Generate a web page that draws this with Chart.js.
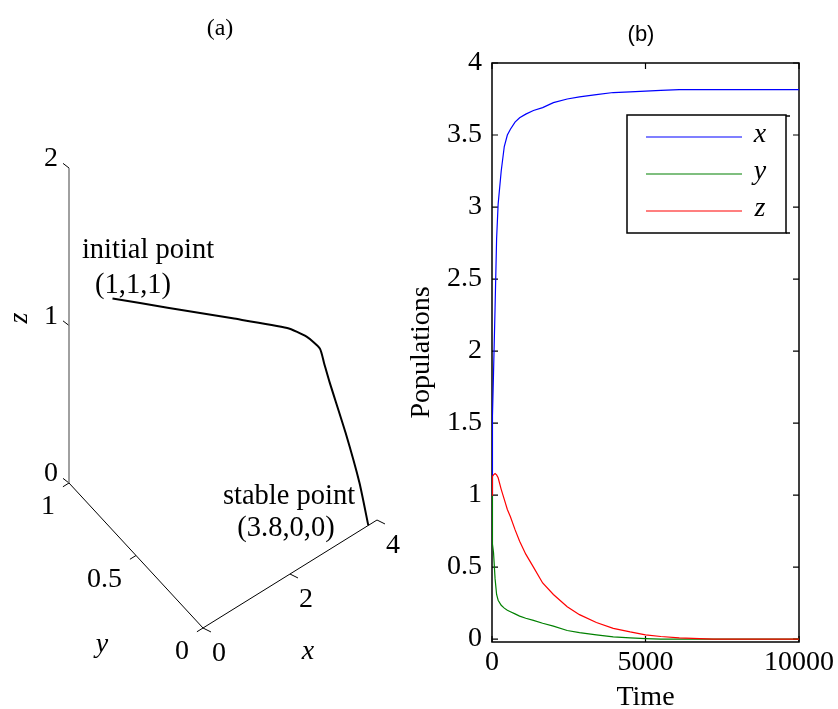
<!DOCTYPE html>
<html>
<head>
<meta charset="utf-8">
<title>Populations</title>
<script src="https://cdn.jsdelivr.net/npm/chart.js@4.4.1/dist/chart.umd.min.js"></script>
<style>
  html, body { margin: 0; padding: 0; background: #fff; }
  #wrap { position: relative; width: 838px; height: 709px; }
  canvas { position: absolute; top: 0; }
  #chartA { left: 0; }
  #chartB { left: 400px; }
</style>
</head>
<body>
<div id="wrap">
  <canvas id="chartA" width="420" height="709"></canvas>
  <canvas id="chartB" width="438" height="709"></canvas>
</div>
<script>
// ---- panel (b): populations over time ----
const timeSteps = [0, 10, 20, 50, 100, 150, 200, 300, 400, 500, 600, 750, 900, 1100, 1350,
                   1650, 2000, 2450, 2850, 3400, 3950, 4500, 5000, 5500, 6100, 7200, 8000, 9000, 10000];
const xPop = [1.0, 1.45, 1.55, 1.85, 2.3, 2.78, 3.02, 3.25, 3.42, 3.5, 3.54, 3.59, 3.62, 3.645, 3.67,
              3.69, 3.725, 3.75, 3.765, 3.78, 3.795, 3.8, 3.805, 3.81, 3.815, 3.815, 3.815, 3.815, 3.815];
const yPop = [1.0, 0.68, 0.66, 0.6, 0.42, 0.31, 0.27, 0.235, 0.215, 0.2, 0.19, 0.175, 0.16, 0.145, 0.13,
              0.11, 0.09, 0.06, 0.045, 0.03, 0.015, 0.008, 0.003, 0, 0, 0, 0, 0, 0];
const zPop = [1.0, 1.12, 1.13, 1.14, 1.15, 1.14, 1.12, 1.04, 0.97, 0.9, 0.85, 0.76, 0.68, 0.59, 0.5,
              0.39, 0.31, 0.225, 0.17, 0.115, 0.075, 0.05, 0.03, 0.018, 0.008, 0, 0, 0, 0];
const popTicks = [0, 0.5, 1, 1.5, 2, 2.5, 3, 3.5, 4];
const timeTicks = [0, 5000, 10000];
const legendNames = ['x', 'y', 'z'];
const lineColors = ['#0000ff', '#008000', '#ff0000'];

// ---- panel (a): phase space trajectory ----
const trajX = [1, 1.68, 2.53, 3.26, 3.49, 3.61, 3.645, 3.68, 3.74, 3.78, 3.8];
const trajY = [1, 0.81, 0.60, 0.43, 0.36, 0.30, 0.28, 0.25, 0.15, 0.06, 0];
const trajZ = [1, 1.0, 0.98, 0.95, 0.92, 0.88, 0.80, 0.70, 0.46, 0.22, 0];
const xTicks3 = [0, 2, 4];
const yTicks3 = [0, 0.5, 1];
const zTicks3 = [0, 1, 2];

const serif = 'Liberation Serif, Times New Roman, serif';

// view of the 3d box (screen offset of one unit along each axis)
const view = { ox: 203, oy: 628, ex: [43.5, -27], ey: [-134, -145], ez: [0, -157.5] };
function proj(x, y, z) {
    return {
        x: view.ox + x * view.ex[0] + y * view.ey[0] + z * view.ez[0],
        y: view.oy + x * view.ex[1] + y * view.ey[1] + z * view.ez[1]
    };
}

function seg(a, b, color, width) {
    return { data: [a, b], showLine: true, borderColor: color, borderWidth: width, pointRadius: 0 };
}

const datasetsA = [];
datasetsA.push(seg(proj(0, 1, 0), proj(0, 1, 2), '#808080', 1.5));
datasetsA.push(seg(proj(0, 0, 0), proj(0, 1, 0), '#000', 1));
datasetsA.push(seg(proj(0, 0, 0), proj(4, 0, 0), '#000', 1));
zTicks3.forEach(v => datasetsA.push(seg(proj(0, 1, v), proj(-0.025, 1.0365, v), '#000', 1)));
yTicks3.forEach(v => datasetsA.push(seg(proj(0, v, 0), proj(-0.14, v, 0), '#000', 1)));
xTicks3.forEach(v => datasetsA.push(seg(proj(v, 0, 0), proj(v + 0.063, -0.039, 0), '#000', 1)));
datasetsA.push({
    data: trajX.map((x, i) => proj(x, trajY[i], trajZ[i])),
    showLine: true, borderColor: '#000', borderWidth: 2, pointRadius: 0, tension: 0.2
});

const labelsA = {
    id: 'labelsA',
    afterDraw(chart) {
        const { ctx, scales: { x, y } } = chart;
        const px = p => [x.getPixelForValue(p.x), y.getPixelForValue(p.y)];
        ctx.save();
        ctx.fillStyle = '#000';
        ctx.font = '28px ' + serif;
        ctx.textBaseline = 'middle';
        ctx.textAlign = 'center';
        zTicks3.forEach(v => { const [a, b] = px(proj(0, 1, v)); ctx.fillText(String(v), a - 18, b - 9); });
        xTicks3.forEach(v => { const [a, b] = px(proj(v, 0, 0)); ctx.fillText(String(v), a + 16, b + 26); });
        ctx.textAlign = 'right';
        yTicks3.forEach(v => { const [a, b] = px(proj(0, v, 0)); ctx.fillText(String(v), a - 14, b + 24); });

        ctx.textAlign = 'center';
        ctx.textBaseline = 'alphabetic';
        ctx.font = '28.5px ' + serif;
        ctx.fillText('initial point', 148, 258);
        ctx.fillText('(1,1,1)', 133, 293);
        ctx.fillText('stable point', 289, 504);
        ctx.fillText('(3.8,0,0)', 286, 536);

        ctx.font = 'italic 28px ' + serif;
        ctx.textBaseline = 'middle';
        ctx.fillText('y', 102, 645);
        ctx.fillText('x', 308, 652);
        ctx.save();
        ctx.translate(20, 318);
        ctx.rotate(-Math.PI / 2);
        ctx.fillText('z', 0, 0);
        ctx.restore();

        ctx.font = '24px ' + serif;
        ctx.fillText('(a)', 220, 29);
        ctx.restore();
    }
};

new Chart(document.getElementById('chartA'), {
    type: 'scatter',
    data: { datasets: datasetsA },
    options: {
        responsive: false,
        animation: false,
        layout: { padding: 0 },
        plugins: { legend: { display: false }, tooltip: { enabled: false } },
        scales: {
            x: { type: 'linear', min: 0, max: 420, display: false },
            y: { type: 'linear', min: 0, max: 709, reverse: true, display: false }
        },
        elements: { line: { borderCapStyle: 'butt' } }
    },
    plugins: [labelsA]
});

// ---- panel (b) chart ----
function series(vals) {
    return timeSteps.map((t, i) => ({ x: t, y: vals[i] }));
}

const frameB = {
    id: 'frameB',
    beforeDatasetsDraw(chart) {
        const { ctx, chartArea: a, scales: { x, y } } = chart;
        ctx.save();
        ctx.strokeStyle = '#000';
        ctx.lineWidth = 1.5;
        ctx.strokeRect(a.left, a.top, a.right - a.left, a.bottom - a.top);
        ctx.lineWidth = 1.2;
        ctx.beginPath();
        popTicks.forEach(v => {
            const py = y.getPixelForValue(v);
            ctx.moveTo(a.left, py); ctx.lineTo(a.left + 6, py);
            ctx.moveTo(a.right, py); ctx.lineTo(a.right - 6, py);
        });
        timeTicks.forEach(v => {
            const px = x.getPixelForValue(v);
            ctx.moveTo(px, a.bottom); ctx.lineTo(px, a.bottom - 6);
            ctx.moveTo(px, a.top); ctx.lineTo(px, a.top + 6);
        });
        ctx.stroke();
        ctx.restore();
    },
    afterDraw(chart) {
        const { ctx } = chart;
        ctx.save();
        // legend box
        ctx.fillStyle = '#fff';
        ctx.fillRect(227, 115, 159, 118);
        ctx.strokeStyle = '#000';
        ctx.lineWidth = 1.5;
        ctx.strokeRect(227, 115, 159, 118);
        ctx.beginPath();
        ctx.moveTo(386, 116); ctx.lineTo(390, 116);
        ctx.moveTo(386, 233); ctx.lineTo(390, 233);
        ctx.stroke();
        const rows = [137, 174, 211];
        ctx.font = 'italic 28px ' + serif;
        ctx.textAlign = 'center';
        ctx.textBaseline = 'middle';
        legendNames.forEach((n, i) => {
            ctx.strokeStyle = lineColors[i];
            ctx.lineWidth = 1.2;
            ctx.beginPath();
            ctx.moveTo(246, rows[i]); ctx.lineTo(342, rows[i]);
            ctx.stroke();
            ctx.fillStyle = '#000';
            ctx.fillText(n, 360, rows[i] - 2);
        });
        // panel label
        ctx.font = '22px Liberation Sans, Arial, sans-serif';
        ctx.fillText('(b)', 241, 35);
        ctx.restore();
    }
};

new Chart(document.getElementById('chartB'), {
    type: 'scatter',
    data: {
        datasets: [
            { label: 'x', data: series(xPop), borderColor: lineColors[0], order: 3 },
            { label: 'y', data: series(yPop), borderColor: lineColors[1], order: 2 },
            { label: 'z', data: series(zPop), borderColor: lineColors[2], order: 1 }
        ].map(d => Object.assign(d, { showLine: true, pointRadius: 0, borderWidth: 1.2, tension: 0 }))
    },
    options: {
        responsive: false,
        animation: false,
        layout: { padding: { top: 63, right: 39, bottom: 0, left: 0 } },
        plugins: { legend: { display: false }, tooltip: { enabled: false } },
        scales: {
            x: {
                type: 'linear', min: 0, max: 10000,
                afterBuildTicks: s => { s.ticks = timeTicks.map(v => ({ value: v })); },
                afterFit: s => { s.height = 67; },
                grid: { display: false, drawTicks: false },
                border: { display: false },
                ticks: { color: '#000', font: { family: serif, size: 28 }, padding: 4,
                         maxRotation: 0, autoSkip: false, callback: v => String(v) },
                title: { display: true, text: 'Time', color: '#000',
                         font: { family: serif, size: 28, lineHeight: 1 }, padding: { top: 0, bottom: -3 } }
            },
            y: {
                type: 'linear', min: -0.02, max: 4,
                afterBuildTicks: s => { s.ticks = popTicks.map(v => ({ value: v })); },
                afterFit: s => { s.width = 92; },
                grid: { display: false, drawTicks: false },
                border: { display: false },
                ticks: { color: '#000', font: { family: serif, size: 28 }, padding: 10,
                         autoSkip: false, callback: v => String(v) },
                title: { display: true, text: 'Populations', color: '#000',
                         font: { family: serif, size: 28, lineHeight: 1 }, padding: { top: 8, bottom: 0 } }
            }
        }
    },
    plugins: [frameB]
});
</script>
</body>
</html>
